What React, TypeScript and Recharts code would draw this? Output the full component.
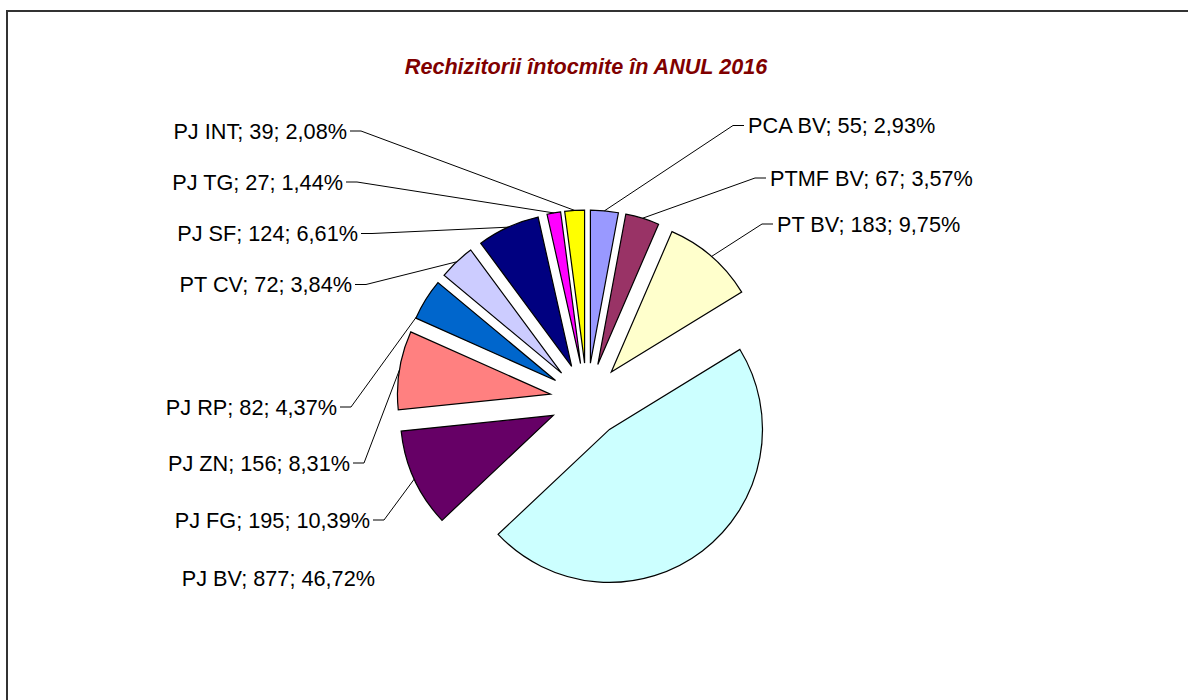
import React from 'react';
import { PieChart, Pie, Sector } from 'recharts';

const CATEGORIES = ['PCA BV', 'PTMF BV', 'PT BV', 'PJ BV', 'PJ FG', 'PJ ZN', 'PJ RP', 'PT CV', 'PJ SF', 'PJ TG', 'PJ INT'];
const VALUES = [55, 67, 183, 877, 195, 156, 82, 72, 124, 27, 39];
const COLORS = ['#9999FF', '#993366', '#FFFFCC', '#CCFFFF', '#660066', '#FF8080', '#0066CC', '#CCCCFF', '#000080', '#FF00FF', '#FFFF00'];
const TITLE = 'Rechizitorii întocmite în ANUL 2016';

// label placement (text anchor point), side and where the leader line meets the slice (fraction of the arc)
const LABEL_LAYOUT: { x: number; y: number; side: 'left' | 'right'; leader: number | null }[] = [
  { x: 748, y: 125.5, side: 'right', leader: 0.5 },
  { x: 770, y: 178, side: 'right', leader: 0.5 },
  { x: 777, y: 224, side: 'right', leader: 0.5 },
  { x: 375, y: 578.5, side: 'left', leader: null },
  { x: 370, y: 520, side: 'left', leader: 0.5 },
  { x: 350, y: 463, side: 'left', leader: 0.5 },
  { x: 337, y: 407, side: 'left', leader: 0.03 },
  { x: 352, y: 284.5, side: 'left', leader: 0.5 },
  { x: 358, y: 233.5, side: 'left', leader: 0.5 },
  { x: 343, y: 182, side: 'left', leader: 0.5 },
  { x: 347, y: 131, side: 'left', leader: 0.5 },
];

const data = CATEGORIES.map((name, i) => ({ name, value: VALUES[i] }));

const FONT = '"Liberation Sans", Arial, sans-serif';
const RAD = Math.PI / 180;
const EXPLODE = 37;
const polar = (cx: number, cy: number, r: number, a: number) => ({
  x: cx + r * Math.cos(-a * RAD),
  y: cy + r * Math.sin(-a * RAD),
});

function renderSlice(props: any) {
  const { cx, cy, outerRadius, startAngle, endAngle, midAngle, index, percent, value } = props;
  const off = polar(0, 0, EXPLODE, midAngle);
  const ecx = cx + off.x;
  const ecy = cy + off.y;
  const lay = LABEL_LAYOUT[index];
  const pct = (percent * 100).toFixed(2).replace('.', ',');
  const text = `${CATEGORIES[index]}; ${value}; ${pct}%`;
  let line = null;
  if (lay.leader !== null) {
    const a = startAngle + (endAngle - startAngle) * lay.leader;
    const p = polar(ecx, ecy, outerRadius, a);
    const pts =
      lay.side === 'right'
        ? [[p.x, p.y], [lay.x - 15, lay.y], [lay.x - 4, lay.y]]
        : [[p.x, p.y], [lay.x + 14, lay.y], [lay.x + 3, lay.y]];
    line = <polyline points={pts.map((q) => q.join(',')).join(' ')} fill="none" stroke="#000" strokeWidth={1} />;
  }
  return (
    <g>
      <Sector
        cx={ecx}
        cy={ecy}
        innerRadius={0}
        outerRadius={outerRadius}
        startAngle={startAngle}
        endAngle={endAngle}
        fill={COLORS[index]}
        stroke="#000"
        strokeWidth={1.2}
      />
      {line}
      <text
        x={lay.x}
        y={lay.y}
        textAnchor={lay.side === 'right' ? 'start' : 'end'}
        dominantBaseline="central"
        fontFamily={FONT}
        fontSize={21.7}
        fill="#000"
        stroke="none"
      >
        {text}
      </text>
    </g>
  );
}

export default function App() {
  return (
    <div style={{ position: 'absolute', left: 0, top: 0, width: 1188, height: 700, overflow: 'hidden', background: '#fff' }}>
      <div style={{ position: 'absolute', left: 0, top: 0 }}>
        <PieChart width={1188} height={700}>
          <Pie
            data={data}
            dataKey="value"
            nameKey="name"
            cx={582}
            cy={395}
            innerRadius={0}
            outerRadius={153}
            startAngle={90}
            endAngle={-270}
            fill="none"
            stroke="none"
            label={renderSlice}
            labelLine={false}
            isAnimationActive={false}
          />
        </PieChart>
      </div>
      <svg width={1188} height={700} style={{ position: 'absolute', left: 0, top: 0, pointerEvents: 'none' }}>
        <path d="M7,700 V11 H1188" fill="none" stroke="#333" strokeWidth={2} />
        <text
          x={586}
          y={66}
          textAnchor="middle"
          dominantBaseline="central"
          fontFamily={FONT}
          fontSize={21.6}
          fontWeight="bold"
          fontStyle="italic"
          fill="#800000"
        >
          {TITLE}
        </text>
      </svg>
    </div>
  );
}
